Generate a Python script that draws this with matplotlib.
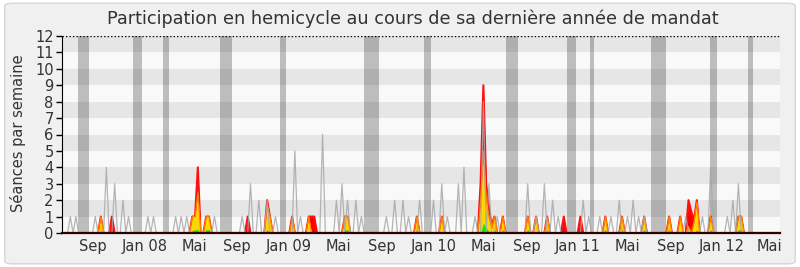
import numpy as np
import matplotlib.pyplot as plt
from matplotlib.patches import FancyBboxPatch

# weekly series, week index -> value (weeks not listed are 0)
n_weeks = 260

gray_weeks = [3, 5, 12, 16, 19, 22, 24, 31, 33, 41, 43, 45, 55, 65, 68, 71, 74, 77,
              84, 86, 94, 99, 101, 103, 106, 108, 117, 120, 123, 125, 129, 134, 137,
              139, 143, 145, 149, 152, 154, 157, 168, 171, 174, 177, 179, 188, 190,
              194, 198, 201, 204, 206, 208, 210, 225, 231, 234, 240, 242, 244]
gray_vals = [1, 1, 1, 4, 3, 2, 1, 1, 1, 1, 1, 1, 1, 1, 3, 2, 2, 1,
             5, 1, 6, 2, 3, 2, 2, 1, 1, 2, 2, 1, 2, 2, 3,
             1, 3, 4, 1, 8, 3, 1, 3, 1, 3, 2, 1, 2, 1,
             1, 1, 2, 1, 2, 1, 1, 1, 1, 4, 1, 2, 3]

red_weeks = [14, 18, 47, 48, 49, 52, 53, 67, 74, 75, 83, 89, 90, 91, 102, 103, 128, 137,
             151, 152, 153, 154, 155, 156, 159, 168, 171, 175, 181, 187, 196, 202, 210,
             219, 223, 226, 227, 228, 229, 234, 244, 245]
red_vals = [1, 1, 1, 1, 4, 1, 1, 1, 2, 1, 1, 1, 1, 1, 1, 1, 1, 1,
            3, 9, 3, 1.5, 0.5, 1, 1, 1, 1, 1, 1, 1, 1, 1, 1,
            1, 1, 2, 1.3, 0.8, 2, 1, 1, 1]

yellow_weeks = [14, 47, 48, 49, 52, 53, 74, 75, 83, 89, 102, 103, 128, 137,
                151, 152, 153, 154, 155, 156, 159, 168, 171, 175, 196, 202, 210,
                219, 223, 226, 228, 229, 234, 244, 245]
yellow_vals = [1, 1, 1, 2.5, 1, 1, 1.7, 1, 1, 1, 1, 1, 1, 1,
               2, 5, 2, 1, 0.3, 1, 1, 1, 1, 1, 1, 1, 1,
               1, 1, 0.4, 0.7, 1.9, 1, 1, 1]

green_weeks = [14, 47, 48, 49, 52, 53, 74, 83, 89, 102, 103, 128, 137, 152, 153, 154,
               156, 159, 168, 171, 175, 196, 202, 210, 219, 223, 229, 234, 244, 245]
green_vals = [0.15, 0.15, 0.2, 0.2, 0.2, 0.2, 0.2, 0.1, 0.1, 0.2, 0.2, 0.2, 0.1, 0.6, 0.3, 0.1,
              0.2, 0.2, 0.2, 0.1, 0.2, 0.2, 0.2, 0.2, 0.2, 0.1, 0.2, 0.2, 0.2, 0.2]

# vacation periods (in weeks)
vacances = [(5.8, 9.7), (25.6, 28.9), (36.5, 38.6), (57.0, 61.4), (78.7, 80.9),
            (109.0, 114.4), (130.7, 133.2), (160.3, 164.6), (182.1, 185.3),
            (190.6, 192.0), (212.3, 217.7), (233.9, 236.1), (247.6, 249.1)]

tick_pos = [11.2, 30.0, 47.6, 63.2, 81.6, 99.6, 115.2, 133.9, 152.0, 167.5,
            185.9, 204.0, 219.5, 237.9, 255.2]
tick_labels = ["Sep", "Jan 08", "Mai", "Sep", "Jan 09", "Mai", "Sep", "Jan 10", "Mai",
               "Sep", "Jan 11", "Mai", "Sep", "Jan 12", "Mai"]


def expand(weeks, vals):
    out = np.zeros(n_weeks)
    out[weeks] = vals
    return out


weeks = np.arange(n_weeks)
gray = expand(gray_weeks, gray_vals)
red = expand(red_weeks, red_vals)
yellow = expand(yellow_weeks, yellow_vals)
green = expand(green_weeks, green_vals)

fig = plt.figure(figsize=(8, 2.67), dpi=100)
fig.patch.set_facecolor('white')
bg = FancyBboxPatch((0.006, 0.012), 0.988, 0.976, boxstyle="round,pad=0,rounding_size=0.01",
                    transform=fig.transFigure, facecolor='#f0f0f0', edgecolor='#d6d6d6',
                    linewidth=1, zorder=-10)
fig.patches.append(bg)

ax = fig.add_axes([62/800, 34/267, 718/800, 197/267])
ax.set_xlim(0, n_weeks - 1)
ax.set_ylim(0, 12)
ax.set_facecolor('#f9f9f9')

# horizontal stripes
for y0 in range(1, 12, 2):
    ax.axhspan(y0, y0 + 1, color='#e6e6e6', lw=0, zorder=0)

# vacations
for a, b in vacances:
    ax.axvspan(a, b, color='black', alpha=0.24, lw=0, zorder=1)

# series
ax.fill_between(weeks, red, color='#ff0000', lw=0, zorder=2)
ax.plot(weeks, red, color='#ff1010', lw=1.5, zorder=2)
ax.fill_between(weeks, yellow, color='#ffd700', lw=0, zorder=3)
ax.plot(weeks, yellow, color='#ff8000', lw=0.8, zorder=3)
ax.fill_between(weeks, green, color='#00ee00', lw=0, zorder=4)
ax.plot(weeks, gray, color='#a8a8a8', lw=0.9, alpha=0.85, zorder=5)

ax.axhline(12, color='black', lw=1, ls=(0, (1, 1.5)), zorder=6)

for s in ['top', 'right']:
    ax.spines[s].set_visible(False)
ax.spines['left'].set_color('black')
ax.spines['bottom'].set_color('#300000')
ax.spines['bottom'].set_linewidth(1.6)
ax.spines['bottom'].set_zorder(7)

ax.set_yticks(range(0, 13))
ax.tick_params(axis='y', length=4, width=1, labelsize=10.5, labelcolor='#333333', pad=2)
ax.set_xticks(tick_pos)
ax.set_xticklabels(tick_labels)
ax.tick_params(axis='x', length=0, labelsize=10.5, labelcolor='#333333', pad=4)

fig.text(0.516, 0.928, "Participation en hemicycle au cours de sa dernière année de mandat",
         ha='center', va='center', fontsize=12.7, color='#333333')
fig.text(0.023, 0.5, "Séances par semaine", rotation=90, ha='center', va='center',
         fontsize=10.5, color='#333333')

fig.savefig('out.png', dpi=100, facecolor=fig.get_facecolor())
